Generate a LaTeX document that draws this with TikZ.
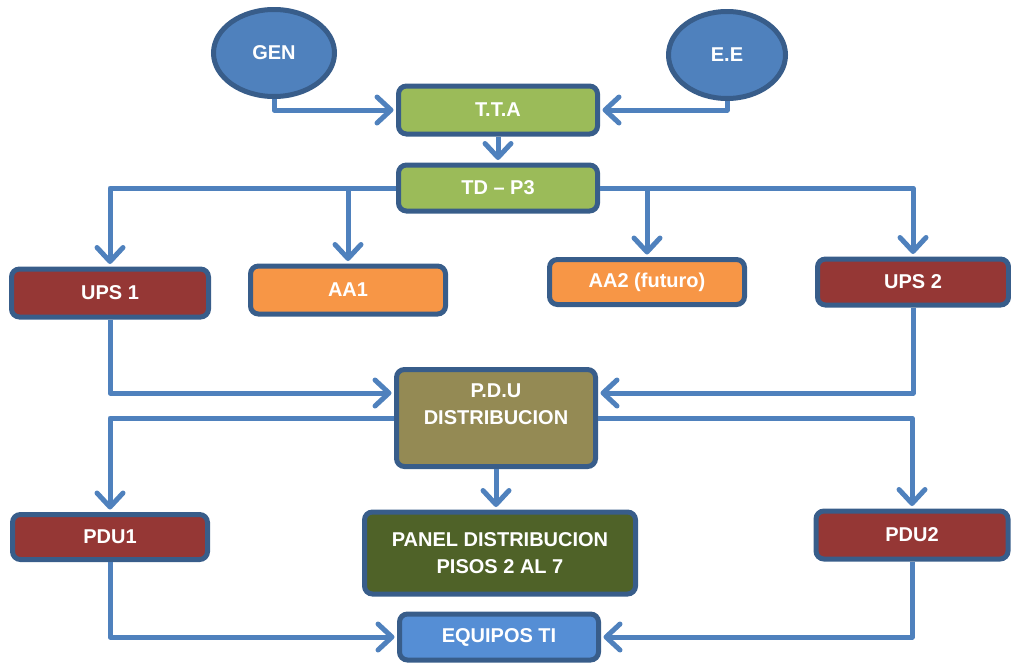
\documentclass[tikz,border=0pt]{standalone}
\usepackage{fontspec}
\setmainfont{Liberation Sans}
\usetikzlibrary{arrows.meta,shapes.geometric}

\definecolor{linea}{HTML}{4F81BD}
\definecolor{borde}{HTML}{385D8A}
\definecolor{azul}{HTML}{4F81BD}
\definecolor{verde}{HTML}{9BBB59}
\definecolor{rojo}{HTML}{953735}
\definecolor{naranja}{HTML}{F79646}
\definecolor{oliva}{HTML}{948A54}
\definecolor{verdeosc}{HTML}{4F6228}
\definecolor{azulclaro}{HTML}{558ED5}

\tikzset{
  caja/.style={draw=borde, line width=5pt, rounded corners=8pt, align=center,
    text=white, font=\fontsize{20}{27}\selectfont\bfseries, inner sep=0pt},
  fuente/.style={ellipse, draw=borde, line width=5pt, fill=azul, text=white,
    font=\fontsize{20}{27}\selectfont\bfseries, inner sep=0pt},
  conn/.style={draw=linea, line width=5pt, line join=round,
    -{Straight Barb[length=14pt,width=26pt,round]}, shorten >=2.5pt}
}

\begin{document}
\begin{tikzpicture}[x=1pt,y=-1pt]
  \useasboundingbox (0,0) rectangle (1011,664);

  % Fuentes de energia
  \node[fuente, minimum width=121pt, minimum height=87pt] (gen) at (274,53) {GEN};
  \node[fuente, minimum width=117pt, minimum height=87pt] (ee) at (727,55) {E.E};

  % Tableros
  \node[caja, fill=verde, minimum width=199pt, minimum height=48pt] (tta) at (498,110) {T.T.A};
  \node[caja, fill=verde, minimum width=199pt, minimum height=46pt] (tdp3) at (498,188) {TD -- P3};

  % Cargas del TD - P3
  \node[caja, fill=rojo, minimum width=197pt, minimum height=48pt] (ups1) at (110,293) {UPS 1};
  \node[caja, fill=naranja, minimum width=195pt, minimum height=48pt] (aa1) at (348,290) {AA1};
  \node[caja, fill=naranja, minimum width=195pt, minimum height=45pt] (aa2) at (647,282) {AA2 (futuro)};
  \node[caja, fill=rojo, minimum width=191pt, minimum height=46pt] (ups2) at (913,282) {UPS 2};

  % Distribucion
  \node[caja, fill=oliva, minimum width=199pt, minimum height=97pt] (pdu) at (496,418) {P.D.U\\DISTRIBUCION\\\mbox{}};
  \node[caja, fill=rojo, minimum width=195pt, minimum height=45pt] (pdu1) at (110,537) {PDU1};
  \node[caja, fill=verdeosc, minimum width=271pt, minimum height=82pt] (panel) at (500,553) {PANEL DISTRIBUCION\\PISOS 2 AL 7};
  \node[caja, fill=rojo, minimum width=192pt, minimum height=48pt] (pdu2) at (912,535) {PDU2};
  \node[caja, fill=azulclaro, minimum width=199pt, minimum height=46pt] (equipos) at (499,637) {EQUIPOS TI};

  % Conexiones
  \draw[conn] (gen.south) |- (tta.west);
  \draw[conn] (ee.south) |- (tta.east);
  \draw[conn] (tta) -- (tdp3);
  \draw[conn] (tdp3.west) -| (ups1.north);
  \draw[conn] (tdp3.west -| aa1.north) -- (aa1.north);
  \draw[conn] (tdp3.east -| aa2.north) -- (aa2.north);
  \draw[conn] (tdp3.east) -| (ups2.north);
  \draw[conn] (ups1.south) |- ([yshift=25pt]pdu.west);
  \draw[conn] (ups2.south) |- ([yshift=25pt]pdu.east);
  \draw[conn] (pdu.west) -| (pdu1.north);
  \draw[conn] (pdu.east) -| (pdu2.north);
  \draw[conn] (pdu.south) -- (pdu.south |- panel.north);
  \draw[conn] (pdu1.south) |- (equipos.west);
  \draw[conn] (pdu2.south) |- (equipos.east);
\end{tikzpicture}
\end{document}
